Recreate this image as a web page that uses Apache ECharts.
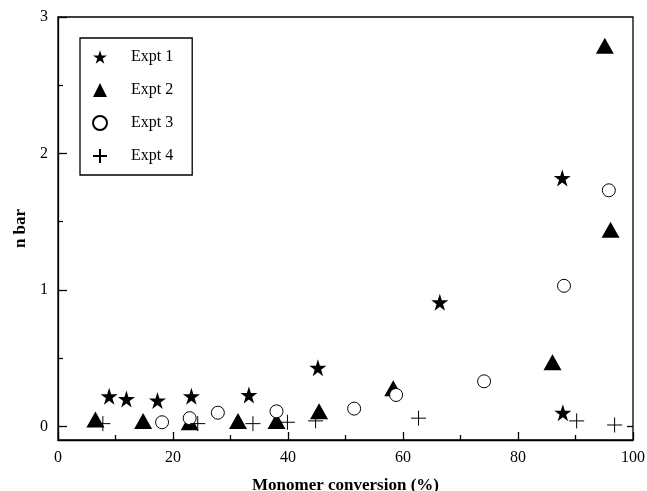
<!DOCTYPE html>
<html>
<head>
<meta charset="utf-8">
<script src="https://cdn.jsdelivr.net/npm/echarts@6/dist/echarts.min.js"></script>
<style>
	html, body { margin: 0; padding: 0; background: #fff; }
	#main { width: 647px; height: 491px; }
</style>
</head>
<body>
<div id="main"></div>
<script>
// data
var expt1_x = [8.9, 11.9, 17.3, 23.2, 33.2, 45.2, 66.4, 87.7, 87.8];
var expt1_y = [0.22, 0.20, 0.19, 0.22, 0.23, 0.43, 0.91, 1.82, 0.10];
var expt2_x = [6.5, 14.8, 22.9, 31.3, 38.0, 45.4, 58.3, 86.0, 95.1, 96.1];
var expt2_y = [0.05, 0.04, 0.03, 0.04, 0.04, 0.11, 0.28, 0.47, 2.79, 1.44];
var expt3_x = [18.1, 22.9, 27.8, 38.0, 51.5, 58.8, 74.1, 88.0, 95.8];
var expt3_y = [0.03, 0.06, 0.10, 0.11, 0.13, 0.23, 0.33, 1.03, 1.73];
var expt4_x = [7.8, 24.3, 33.9, 39.9, 44.8, 62.7, 90.2, 96.8];
var expt4_y = [0.02, 0.02, 0.02, 0.03, 0.04, 0.06, 0.04, 0.01];
var y_ticks = [0, 1, 2, 3];
var y_minor = [0.5, 1.5, 2.5];

function pairs(xs, ys)
{
	var out = [];
	for (var i = 0; i < xs.length; i++) {
		out.push([xs[i], ys[i]]);
	}
	return out;
}

var STAR = 'path://M50,0 L61.8,36.2 L100,36.2 L69.1,58.6 L80.9,95 L50,72.6 L19.1,95 L30.9,58.6 L0,36.2 L38.2,36.2 Z';
var PLUS = 'path://M0,50 L100,50 M50,0 L50,100';
var font = 'Liberation Serif';

var dom = document.getElementById("main");
var myChart = echarts.init(dom);
var option = {
	backgroundColor: '#fff',
	animation: false,
	textStyle: { fontFamily: font, color: '#000' },
	grid: {
		left: 58, right: 14, top: 17, bottom: 51,
		outerBoundsMode: 'none',
		containLabel: false,
		show: true, borderColor: '#000', borderWidth: 1.3, backgroundColor: 'transparent'
	},
	legend: {
		orient: 'vertical',
		left: 80, top: 38,
		padding: [11, 19, 11, 12],
		itemWidth: 14, itemHeight: 14,
		itemGap: 17,
		borderColor: '#000', borderWidth: 1.3,
		backgroundColor: '#fff',
		textStyle: { fontFamily: font, fontSize: 16, color: '#000', padding: [0, 0, 0, 19] },
		data: [
			{ name: 'Expt 1', itemStyle: { opacity: 1 } },
			{ name: 'Expt 2', itemStyle: { opacity: 1 } },
			{ name: 'Expt 3', icon: 'circle', itemStyle: { opacity: 1 } },
			{ name: 'Expt 4', itemStyle: { opacity: 1 } }
		]
	},
	xAxis: [{
		type: 'value',
		min: 0, max: 100, interval: 20,
		name: 'Monomer conversion (%)',
		nameLocation: 'middle',
		nameGap: 37,
		nameTextStyle: { fontFamily: font, fontSize: 17, fontWeight: 'bold', color: '#000' },
		axisLine: { show: true, onZero: false, lineStyle: { color: '#000', width: 1.3 } },
		axisTick: { show: true, inside: true, length: 8, lineStyle: { color: '#000', width: 1.3 } },
		minorTick: { show: true, splitNumber: 2, length: 5, lineStyle: { color: '#000', width: 1.3 } },
		axisLabel: { fontFamily: font, fontSize: 16, color: '#000', margin: 10 },
		splitLine: { show: false }
	}],
	yAxis: [{
		type: 'value',
		min: -0.1, max: 3,
		name: 'n bar',
		nameLocation: 'middle',
		nameGap: 29,
		nameTextStyle: { fontFamily: font, fontSize: 17, fontWeight: 'bold', color: '#000' },
		axisLine: { show: true, onZero: false, lineStyle: { color: '#000', width: 1.3 } },
		axisTick: { show: true, inside: true, length: 9, customValues: y_ticks, lineStyle: { color: '#000', width: 1.3 } },
		axisLabel: { fontFamily: font, fontSize: 16, color: '#000', margin: 10, customValues: y_ticks },
		splitLine: { show: false }
	}, {
		type: 'value',
		min: -0.1, max: 3,
		position: 'left',
		axisLine: { show: false, onZero: false },
		axisTick: { show: true, inside: true, length: 5, customValues: y_minor, lineStyle: { color: '#000', width: 1.3 } },
		axisLabel: { show: false, customValues: y_minor },
		splitLine: { show: false }
	}, {
		type: 'value',
		min: -0.1, max: 3,
		position: 'right',
		axisLine: { show: false, onZero: false },
		axisTick: { show: true, inside: true, length: 6, customValues: [0], lineStyle: { color: '#000', width: 1.3 } },
		axisLabel: { show: false, customValues: [0] },
		splitLine: { show: false }
	}],
	series: [
		{
			name: 'Expt 1', type: 'scatter',
			symbol: STAR, symbolSize: 17,
			itemStyle: { color: '#000', opacity: 1 },
			data: pairs(expt1_x, expt1_y)
		},
		{
			name: 'Expt 2', type: 'scatter',
			symbol: 'triangle', symbolSize: [18, 16],
			itemStyle: { color: '#000', opacity: 1 },
			data: pairs(expt2_x, expt2_y)
		},
		{
			name: 'Expt 3', type: 'scatter',
			symbol: 'circle', symbolSize: 13,
			itemStyle: { color: '#fff', borderColor: '#000', borderWidth: 1, opacity: 1 },
			data: pairs(expt3_x, expt3_y)
		},
		{
			name: 'Expt 4', type: 'scatter',
			symbol: PLUS, symbolSize: 15,
			itemStyle: { color: 'transparent', borderColor: '#000', borderWidth: 1, opacity: 1 },
			data: pairs(expt4_x, expt4_y)
		}
	]
};
myChart.setOption(option, true);
</script>
</body>
</html>
